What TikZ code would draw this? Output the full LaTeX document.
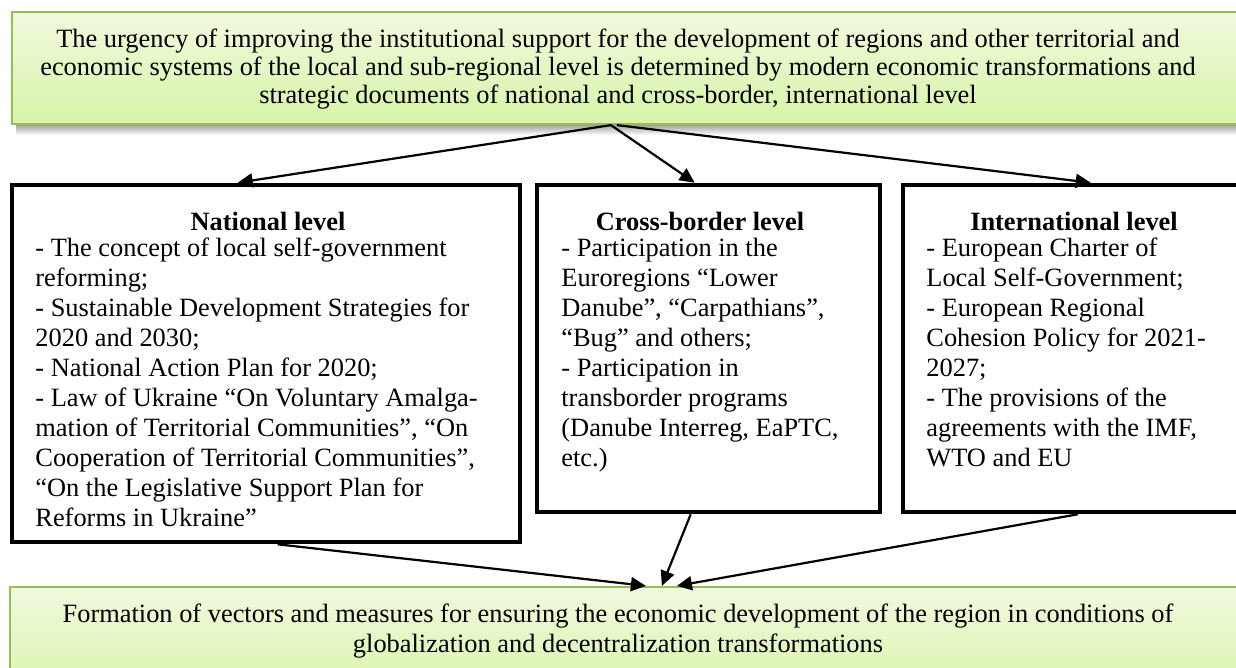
\documentclass[tikz,border=0pt]{standalone}
\usepackage{fontspec}
\setmainfont{Liberation Serif}
\usetikzlibrary{arrows.meta,fit,calc}
\definecolor{gborder}{HTML}{9BBB59}
\definecolor{gtop}{HTML}{F0FADE}
\definecolor{gbot}{HTML}{D8F4A8}
\begin{document}
\begin{tikzpicture}[x=0.5pt,y=-0.5pt,
  greenbox/.style={draw=gborder, line width=1.1pt, top color=gtop, bottom color=gbot, inner sep=0pt},
  levelbox/.style={draw=black, line width=2.3pt, fill=white, inner sep=0pt},
  txt/.style={inner sep=0pt, font=\fontsize{13.2}{15}\selectfont},
  ttl/.style={inner sep=0pt, font=\fontsize{13.2}{15}\selectfont\bfseries},
  arr/.style={-{Triangle[length=7.5pt,width=7pt]}, line width=1.1pt},
]
\useasboundingbox (0,0) rectangle (1236,668);
\clip (0,0) rectangle (1236,668);
% shadow of top box
\fill[top color=black!40, bottom color=white] (16,124) rectangle (1250,135);
\node[greenbox, fit={(12,12) (1250,124)}] (top) {};
\node[txt, align=center, font=\fontsize{13.2}{14.2}\selectfont] (toptext) at (618,69)
 {The urgency of improving the institutional support for the development of regions and other territorial and\\
  economic systems of the local and sub-regional level is determined by modern economic transformations and\\
  strategic documents of national and cross-border, international level};

\node[levelbox, fit={(12,185) (520,542)}] (nat) {};
\node[levelbox, fit={(537,185) (880,512)}] (cross) {};
\node[levelbox, fit={(903,185) (1245,512)}] (intl) {};

\node[ttl] (natt) at (268,221) {National level};
\node[ttl] (crosst) at (700,221) {Cross-border level};
\node[ttl] (intlt) at (1074,221) {International level};

\node[txt, align=left, anchor=north west] (natb) at (35,238)
 {- The concept of local self-government\\
  reforming;\\
  - Sustainable Development Strategies for\\
  2020 and 2030;\\
  - National Action Plan for 2020;\\
  - Law of Ukraine “On Voluntary Amalga-\\
  mation of Territorial Communities”, “On\\
  Cooperation of Territorial Communities”,\\
  “On the Legislative Support Plan for\\
  Reforms in Ukraine”};
\node[txt, align=left, anchor=north west] (crossb) at (561,238)
 {- Participation in the\\
  Euroregions “Lower\\
  Danube”, “Carpathians”,\\
  “Bug” and others;\\
  - Participation in\\
  transborder programs\\
  (Danube Interreg, EaPTC,\\
  etc.)};
\node[txt, align=left, anchor=north west] (intlb) at (926,238)
 {- European Charter of\\
  Local Self-Government;\\
  - European Regional\\
  Cohesion Policy for 2021-\\
  2027;\\
  - The provisions of the\\
  agreements with the IMF,\\
  WTO and EU};

\node[greenbox, fit={(10,587) (1250,700)}] (bot) {};
\node[txt, align=center] (bottext) at (618,631)
 {Formation of vectors and measures for ensuring the economic development of the region in conditions of\\
  globalization and decentralization transformations};

\draw[arr] ($(top.south west)+(600,0)$) -- ($(nat.north west)+(228,0)$);
\draw[arr] ($(top.south west)+(600,0)$) -- ($(cross.north west)+(160,0)$);
\draw[arr] ($(top.south west)+(606,0)$) -- ($(intl.north west)+(190,0)$);

\draw[arr] ($(nat.south west)+(268,0)$) -- ($(bot.north west)+(637,0)$);
\draw[arr] ($(cross.south west)+(156,0)$) -- ($(bot.north west)+(653,0)$);
\draw[arr] ($(intl.south west)+(177,0)$) -- ($(bot.north west)+(668,0)$);
\end{tikzpicture}
\end{document}
